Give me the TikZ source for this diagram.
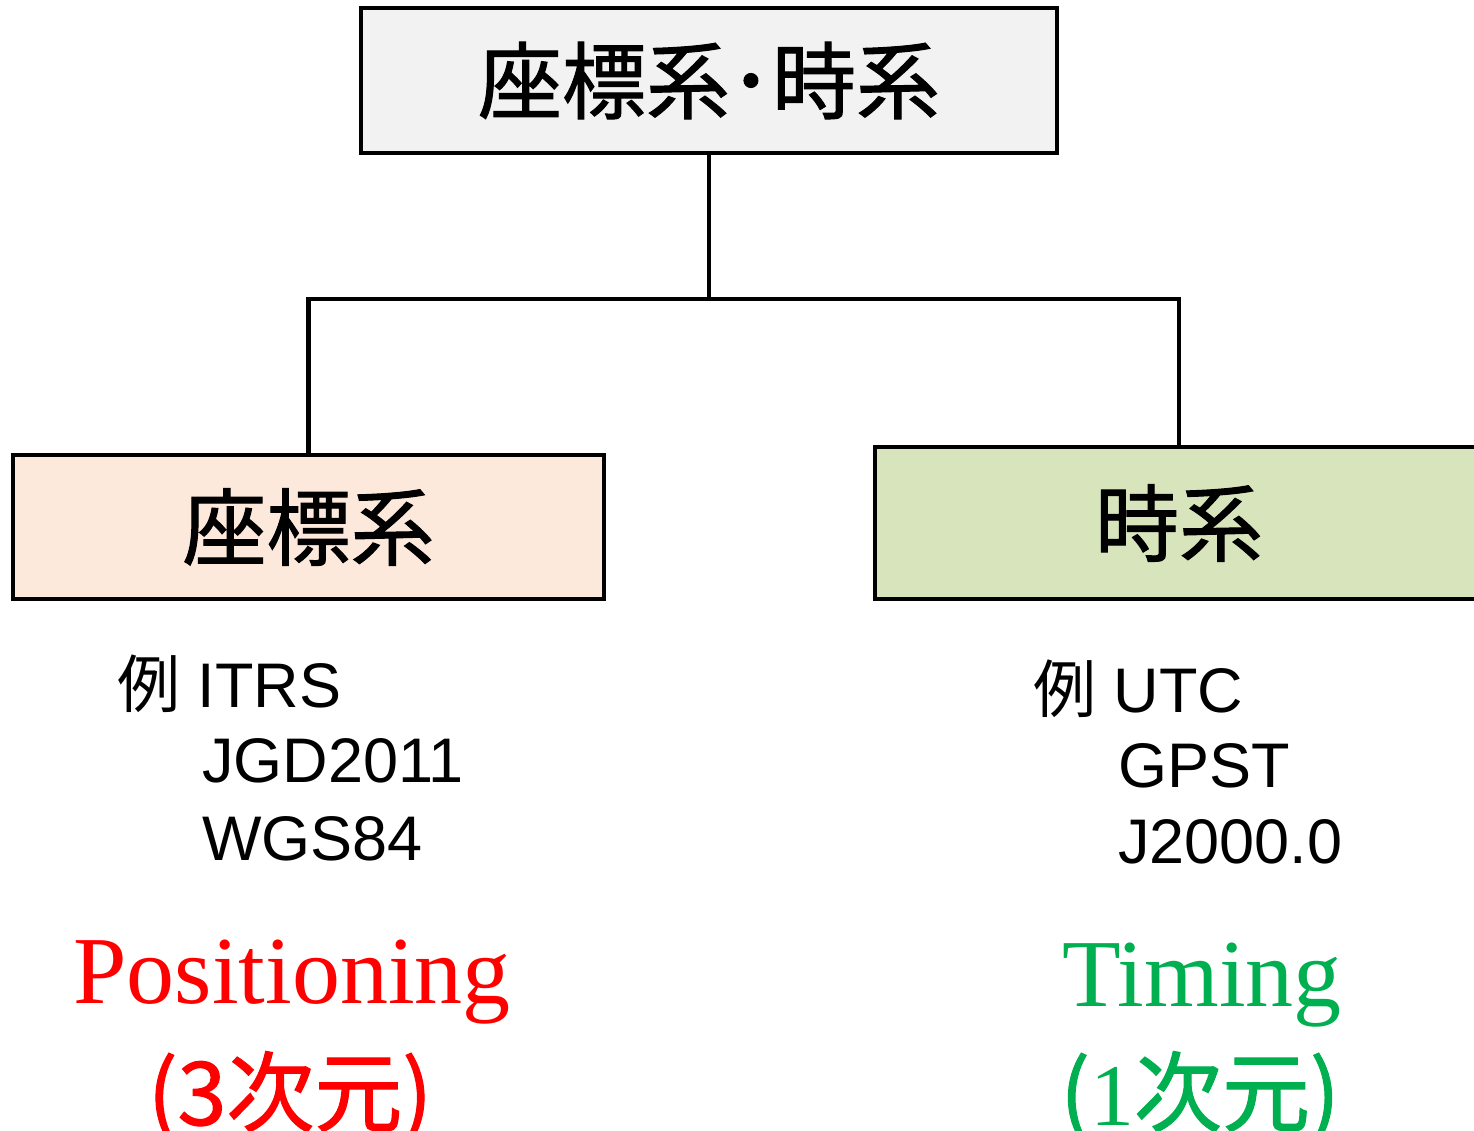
\documentclass[tikz,border=0pt]{standalone}
\usepackage{fontspec}
\setmainfont{Liberation Sans}
\newfontfamily\cjk{Noto Sans CJK JP}
\newfontfamily\cjkheavy[FakeBold=1.2]{Noto Sans CJK JP}
\newfontfamily\serifx{Liberation Serif}
\definecolor{topfill}{HTML}{F2F2F2}
\definecolor{peach}{HTML}{FCE9DB}
\definecolor{olive}{HTML}{D8E4BC}
\definecolor{redx}{HTML}{FF0000}
\definecolor{greenx}{HTML}{00B050}
\begin{document}
\begin{tikzpicture}[x=1pt,y=-1pt,
  box/.style={draw=black, line width=4.5pt, inner sep=0pt, font=\cjkheavy\fontsize{84}{84}\selectfont},
  conn/.style={draw=black, line width=4.5pt},
  example/.style={anchor=base west, inner sep=0pt, font=\fontsize{63}{63}\selectfont},
  bigword/.style={anchor=base, inner sep=0pt, font=\serifx\fontsize{96}{96}\selectfont},
  dimlabel/.style={anchor=base, inner sep=0pt, font=\cjkheavy\fontsize{88}{88}\selectfont}]
\useasboundingbox (0,0) rectangle (1474,1131);
\clip (0,0) rectangle (1474,1131);
\node[box, fill=topfill, minimum width=696pt, minimum height=145pt] (top) at (709,80.5) {座標系･時系};
\node[box, fill=peach, minimum width=591pt, minimum height=144pt] (left) at (308.5,527) {座標系};
\node[box, fill=olive, minimum width=608pt, minimum height=152pt] (right) at (1179,523) {時系};
\coordinate (mid) at (709,299);
\draw[conn] (top.south) -- (mid) -| (left.north);
\draw[conn] (mid) -| (right.north);
\node[example] (ex1) at (117,707) {{\cjk 例} ITRS};
\node[example] (ex2) at (202,782) {JGD2011};
\node[example] (ex3) at (202,860) {WGS84};
\node[example] (ey1) at (1033,712) {{\cjk 例} UTC};
\node[example] (ey2) at (1118,787) {GPST};
\node[example] (ey3) at (1118,863) {J2000.0};
\node[bigword, text=redx] (pos) at (292,1003) {Positioning};
\node[dimlabel, text=redx] (pos3) at (290,1125) {(3次元)};
\node[bigword, text=greenx] (tim) at (1202,1006) {Timing};
\node[dimlabel, text=greenx] (tim1) at (1200,1125) {({\serifx 1}次元)};
\end{tikzpicture}
\end{document}
